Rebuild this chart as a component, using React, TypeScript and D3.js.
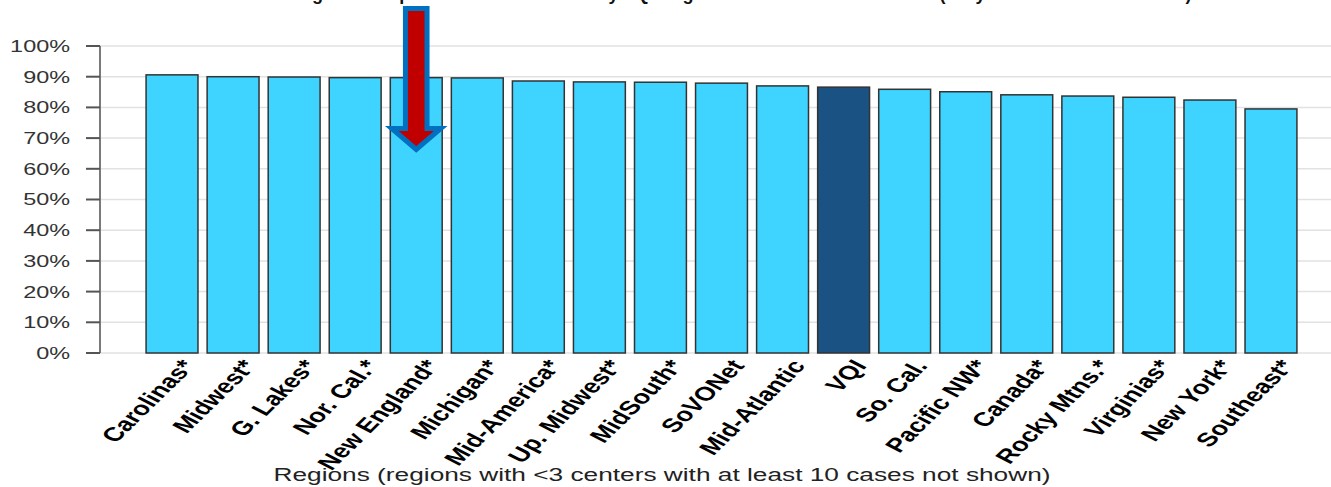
import React from "react";
import * as d3 from "d3";

const categories = [
  "Carolinas*", "Midwest*", "G. Lakes*", "Nor. Cal.*", "New England*", "Michigan*",
  "Mid-America*", "Up. Midwest*", "MidSouth*", "SoVONet", "Mid-Atlantic", "VQI",
  "So. Cal.", "Pacific NW*", "Canada*", "Rocky Mtns.*", "Virginias*", "New York*", "Southeast*",
];
const values = [90.6, 90.0, 89.9, 89.7, 89.7, 89.6, 88.6, 88.3, 88.2, 87.9, 87.0, 86.6, 85.9, 85.1, 84.1, 83.7, 83.3, 82.4, 79.5];
const highlightCategory = "VQI";
const arrowCategory = "New England*";
const yTicks = [0, 10, 20, 30, 40, 50, 60, 70, 80, 90, 100];
const titleText = "Discharge on Antiplatelet and Statin Use by VQI Region \u2013 Elective Carotid Cases (Only centers with \u226510 cases)";
const xAxisTitle = "Regions (regions with <3 centers with at least 10 cases not shown)";

const W = 1331;
const H = 487;
const SX = 1.42; // horizontal stretch of the source picture
const FONT = "Arial, 'Liberation Sans', Helvetica, sans-serif";

export default function App() {
  const y = d3.scaleLinear().domain([0, 100]).range([353, 46]);
  const x = d3
    .scaleBand<string>()
    .domain(categories)
    .range([141.5, 1301.5])
    .paddingInner(0.15)
    .paddingOuter(0.075);
  const bw = x.bandwidth();
  const axisX = 100;
  const ax = (x(arrowCategory) as number) + bw / 2;

  const arrowPts = [
    [ax - 10.8, 8.5],
    [ax + 10.8, 8.5],
    [ax + 10.8, 128.5],
    [ax + 24.5, 128.5],
    [ax, 149.5],
    [ax - 24.5, 128.5],
    [ax - 10.8, 128.5],
  ]
    .map((p) => p.join(","))
    .join(" ");

  return (
    <svg
      width={W}
      height={H}
      style={{ position: "absolute", left: 0, top: 0, background: "#fff" }}
      fontFamily={FONT}
    >
      <rect x={0} y={0} width={W} height={H} fill="#ffffff" />
      {/* title, cut off at the top as in the source */}
      <text x={246} y={-0.5} fontSize={18} fontWeight="bold" fill="#111">
        {titleText}
      </text>

      {/* gridlines */}
      {yTicks.map((t) => (
        <line key={"g" + t} x1={axisX} x2={W} y1={y(t)} y2={y(t)} stroke="#e2e2e2" strokeWidth={1.5} />
      ))}

      {/* y axis */}
      <line x1={axisX} x2={axisX} y1={y(100)} y2={y(0)} stroke="#7a7a7a" strokeWidth={2} />
      {yTicks.map((t) => (
        <g key={"t" + t}>
          <line x1={86} x2={axisX} y1={y(t)} y2={y(t)} stroke="#555" strokeWidth={2} />
          <text
            transform={`translate(70,${y(t)}) scale(${SX},1)`}
            dy="0.36em"
            textAnchor="end"
            fontSize={16.5}
            fill="#333"
          >
            {t + "%"}
          </text>
        </g>
      ))}

      {/* bars */}
      {categories.map((c, i) => (
        <rect
          key={c}
          x={x(c)}
          y={y(values[i])}
          width={bw}
          height={y(0) - y(values[i])}
          fill={c === highlightCategory ? "#1a5283" : "#3fd3ff"}
          stroke="#333"
          strokeWidth={1.5}
        />
      ))}

      {/* x labels */}
      {categories.map((c) => (
        <text
          key={"l" + c}
          transform={`translate(${(x(c) as number) + bw / 2 + 16},${362}) scale(${SX},1) rotate(-54)`}
          textAnchor="end"
          dy="0.35em"
          fontSize={19.5}
          fontWeight="bold"
          fill="#000"
        >
          {c}
        </text>
      ))}

      {/* x axis title */}
      <text
        transform={`translate(662,481) scale(${SX},1)`}
        textAnchor="middle"
        fontSize={18.5}
        fill="#222"
      >
        {xAxisTitle}
      </text>

      {/* arrow annotation */}
      <polygon points={arrowPts} fill="#c00000" stroke="#0070c0" strokeWidth={5} strokeLinejoin="miter" />
    </svg>
  );
}
